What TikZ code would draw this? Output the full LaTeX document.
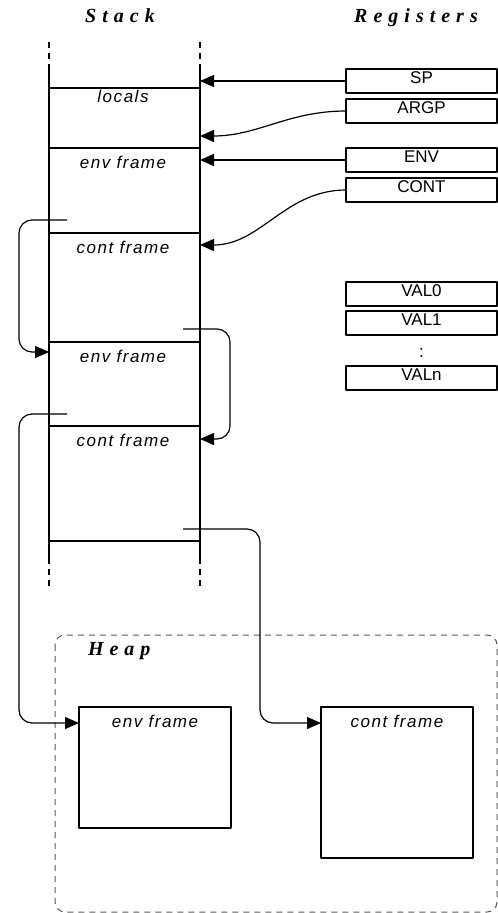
\documentclass[tikz,border=0pt]{standalone}
\usepackage{fontspec}
\setmainfont{Liberation Sans}
\newfontfamily\slotface[LetterSpace=9]{Liberation Sans}
\newfontfamily\headface[LetterSpace=30]{Liberation Serif}
\newcommand\regfont{\fontsize{17}{17}\selectfont}
\newcommand\slotfont{\slotface\itshape\fontsize{17}{17}\selectfont}
\newcommand\headfont{\headface\bfseries\itshape\fontsize{20}{20}\selectfont}
\usetikzlibrary{arrows.meta}

\begin{document}
\begin{tikzpicture}[
  x=1pt, y=-1pt,
  line join=round,
  every node/.style={inner sep=0pt, outer sep=0pt},
  wall/.style={line width=1.2pt},
  open/.style={line width=1.2pt, dash pattern=on 6pt off 5pt},
  reg/.style={draw, line width=1.1pt, anchor=north west, minimum width=151pt,
    minimum height=24pt, text height=12pt, text depth=8pt, font=\regfont},
  slot/.style={anchor=base, font=\slotfont},
  title/.style={anchor=base, font=\headfont},
  ptr/.style={line width=1.2pt, -{Triangle[length=14pt, width=12pt]}},
  back/.style={ptr, rounded corners=13pt},
  hframe/.style={draw, line width=1.1pt, anchor=north west, minimum width=152pt},
  region/.style={draw=black!65, line width=1pt, dash pattern=on 6pt off 5pt, rounded corners=10pt},
]
\useasboundingbox (0,0) rectangle (498,913);

\node[title] (stack) at (120,22) {Stack};
\node[title] (regs) at (416,22) {Registers};

% stack walls, open at both ends
\draw[open] (49,42) -- (49,68) (200,42) -- (200,68);
\draw[wall] (49,68) -- (49,558) (200,68) -- (200,558);
\draw[open] (49,558) -- (49,587) (200,558) -- (200,587);
\foreach \y in {88,148,233,342,426,541}
  \draw[wall] (49,\y) -- (200,\y);

\node[slot] (locals) at (123,102) {locals};
\node[slot] (env1) at (123,168) {env frame};
\node[slot] (cont1) at (123,253) {cont frame};
\node[slot] (env2) at (123,362) {env frame};
\node[slot] (cont2) at (123,446) {cont frame};

% registers
\node[reg] (sp) at (346,69) {SP};
\node[reg] (argp) at (346,99) {ARGP};
\node[reg] (env) at (346,148) {ENV};
\node[reg] (cont) at (346,178) {CONT};
\node[reg] (val0) at (346,282) {VAL0};
\node[reg] (val1) at (346,311) {VAL1};
\node[font=\regfont] (vdots) at (421.5,353) {:};
\node[reg] (valn) at (346,366) {VALn};

\coordinate (stackR) at (200,0);
\coordinate (argp in) at (200,136);
\coordinate (cont in) at (200,245);
\draw[ptr] (sp.west) -- (sp.west -| stackR);
\draw[ptr] (argp.west) to[out=180, in=0] (argp in);
\draw[ptr] (env.west) -- (env.west -| stackR);
\draw[ptr] (cont.west) to[out=180, in=0] (cont in);

% heap
\draw[region] (55,635) rectangle (497,912);
\node[title, anchor=base west] (heap) at (88,655) {Heap};
\node[hframe, minimum height=121pt] (henv) at (79,707) {};
\node[hframe, minimum height=151pt] (hcont) at (321,707) {};
\node[slot] (henv label) at ([yshift=-20pt]henv.north) {env frame};
\node[slot] (hcont label) at ([yshift=-20pt]hcont.north) {cont frame};
\coordinate (henv in) at ([yshift=-16pt]henv.north west);
\coordinate (hcont in) at ([yshift=-16pt]hcont.north west);

% saved links between frames
\coordinate (link1) at (67,220);
\coordinate (link2) at (183,329);
\coordinate (link3) at (67,414);
\coordinate (link4) at (183,529);
\coordinate (env2 in) at (49,352);
\coordinate (cont2 in) at (200,439);
\draw[back] (link1) -- (19,220) -- (19,352) -- (env2 in);
\draw[back] (link2) -- (230,329) -- (230,439) -- (cont2 in);
\draw[back] (link3) -- (19,414) -- (19,723) -- (henv in);
\draw[back] (link4) -- (260,529) -- (260,723) -- (hcont in);
\end{tikzpicture}
\end{document}
